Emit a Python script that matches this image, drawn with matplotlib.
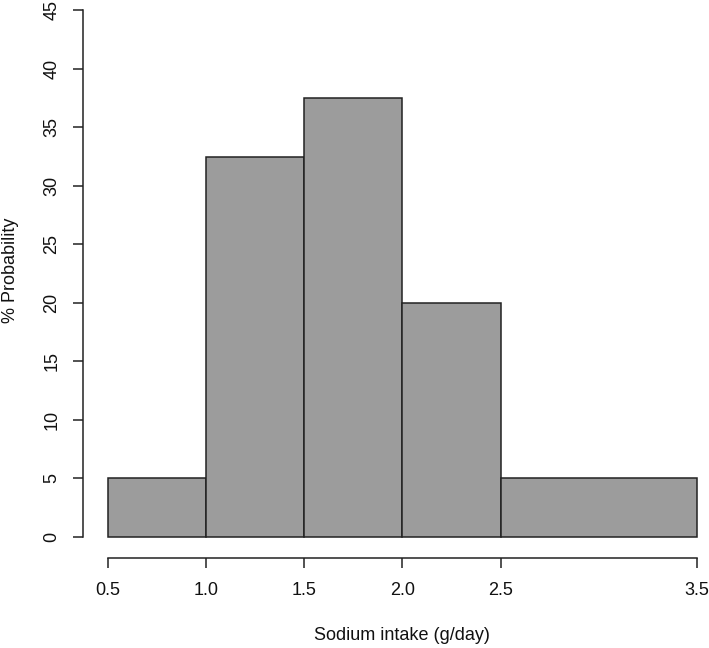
import numpy as np
import matplotlib
matplotlib.use("Agg")
import matplotlib.pyplot as plt

plt.rcParams['font.family'] = ['Liberation Sans', 'DejaVu Sans']

# histogram data: bin edges (g/day) and % probability per bin
bin_edges = [0.5, 1.0, 1.5, 2.0, 2.5, 3.5]
percent = [5, 32.5, 37.5, 20, 5]
x_ticks = [0.5, 1.0, 1.5, 2.0, 2.5, 3.5]
x_tick_labels = ['0.5', '1.0', '1.5', '2.0', '2.5', '3.5']
y_ticks = [0, 5, 10, 15, 20, 25, 30, 35, 40, 45]

W, H = 709, 648
fig = plt.figure(figsize=(W / 100, H / 100), dpi=100)

# plot region in pixels (R style, 4% padding around data range)
left_px, right_px = 83, 720.6
bottom_px, top_px = 558, -10.6
ax = fig.add_axes([left_px / W, (H - bottom_px) / H,
                   (right_px - left_px) / W, (bottom_px - top_px) / H])

lefts = np.array(bin_edges[:-1])
widths = np.diff(bin_edges)
ax.bar(lefts, percent, width=widths, align='edge', color='#9c9c9c',
       edgecolor='#222222', linewidth=1.1)

ax.set_xlim(0.373, 3.62)
ax.set_ylim(-1.8, 46.8)

for s in ['top', 'right']:
    ax.spines[s].set_visible(False)
ax.spines['left'].set_bounds(0, 45)
ax.spines['bottom'].set_bounds(0.5, 3.5)
for s in ['left', 'bottom']:
    ax.spines[s].set_linewidth(1.1)
    ax.spines[s].set_color('#222222')

ax.set_xticks(x_ticks)
ax.set_xticklabels(x_tick_labels)
ax.set_yticks(y_ticks)
ax.set_yticklabels([str(v) for v in y_ticks], rotation=90, va='center')
ax.tick_params(axis='both', length=7.2, width=1.1, color='#222222',
               labelsize=13, labelcolor='#111111')
ax.tick_params(axis='x', pad=10)
ax.tick_params(axis='y', pad=9)

ax.set_xlabel('Sodium intake (g/day)', fontsize=13, color='#111111', labelpad=20)
ax.set_ylabel('% Probability', fontsize=13, color='#111111')
ax.yaxis.set_label_coords(-0.1, (bottom_px - 270) / (bottom_px - top_px))

fig.savefig('out.png', dpi=100, facecolor='white')
